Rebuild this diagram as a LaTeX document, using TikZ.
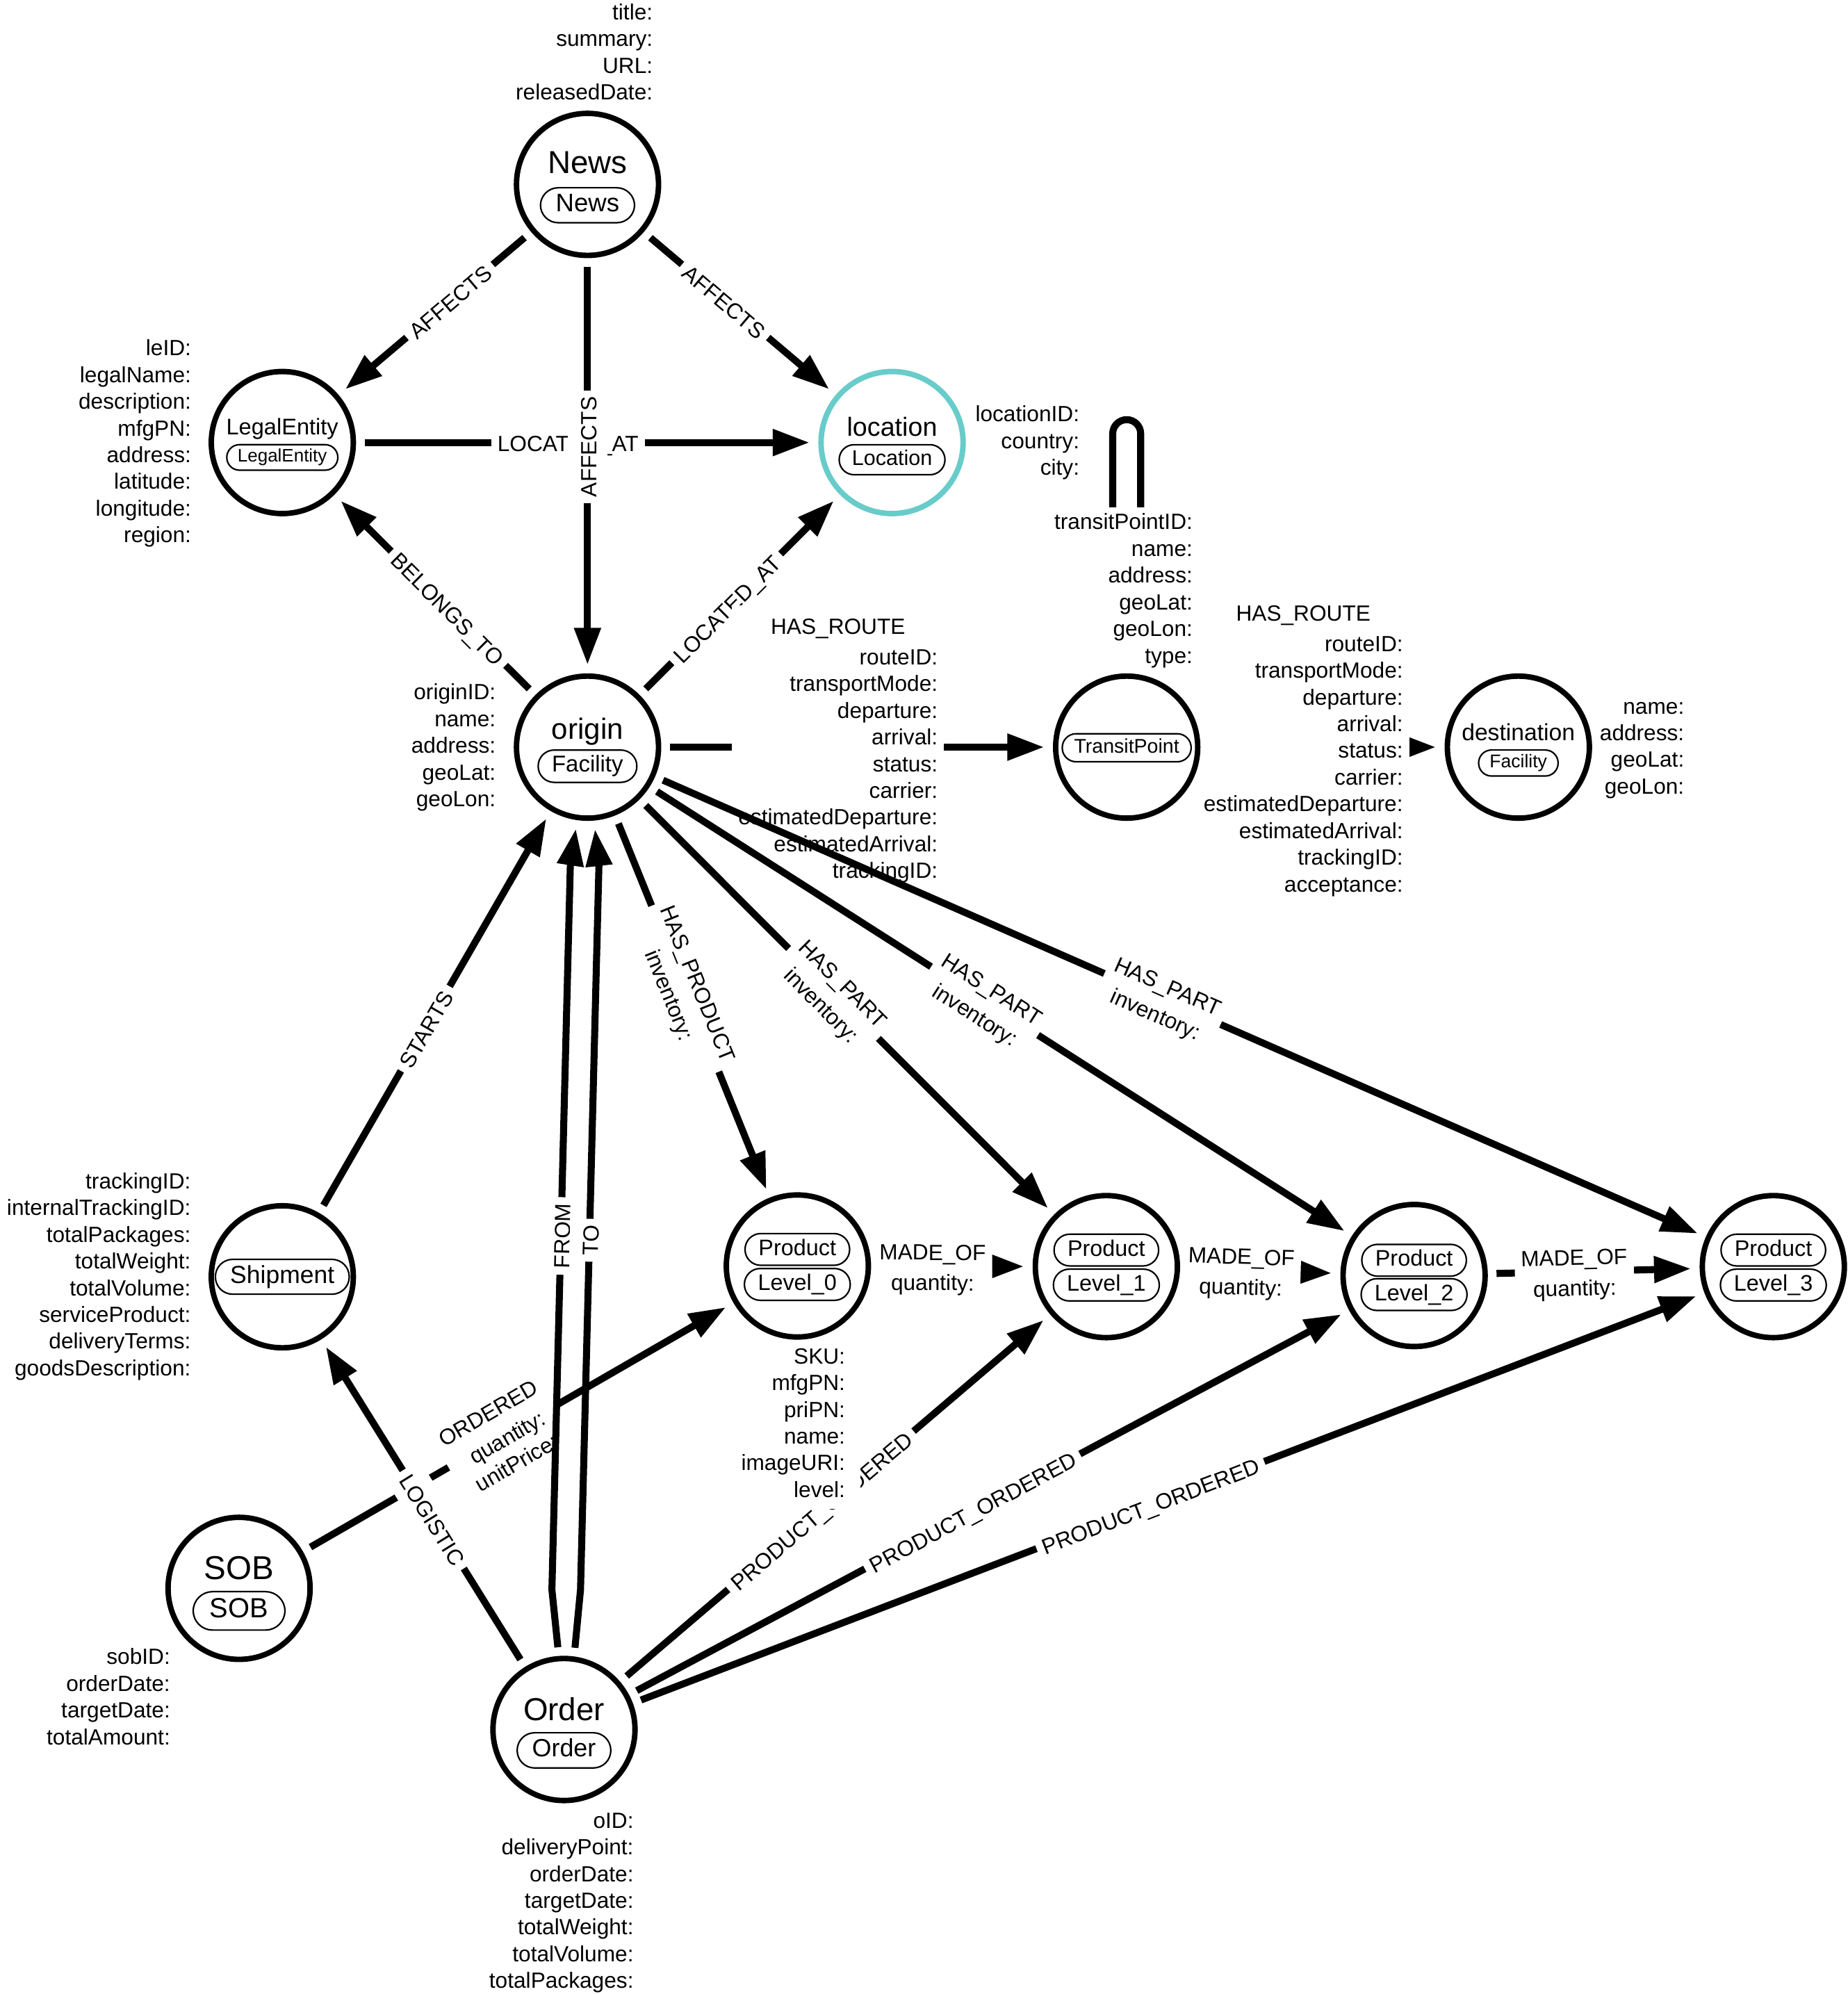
\documentclass[tikz,border=0pt]{standalone}
\usepackage{fontspec}
\setmainfont{Liberation Sans}
\usetikzlibrary{arrows.meta,shapes.misc,calc}
\pgfdeclarelayer{edges}
\pgfdeclarelayer{props}
\pgfsetlayers{edges,props,main}
\definecolor{locteal}{HTML}{68CCCA}
% vertical phantom so every caption has the same box height
\newcommand\vp{\vphantom{Ay}}
% relationship type alone (text set a little low inside its white box)
\newcommand\rtitle[1]{\raisebox{-3pt}[\height][\depth]{\begin{tabular}{@{}c@{}}#1\end{tabular}}}
% relationship type with its property keys below
\newcommand\rprops[2]{\raisebox{-3pt}[\height][\depth]{\begin{tabular}{@{}c@{}}#1\\[3pt]\begin{tabular}{@{}r@{}}#2\end{tabular}\end{tabular}}}
% property keys of a node, aligned on the baseline of the first key
\newcommand\plist[1]{\begin{tabular}[t]{@{}r@{}}#1\end{tabular}}

\begin{document}
\begin{tikzpicture}[x=1pt,y=-1pt,
  ent/.style={circle,draw,line width=4.3pt,minimum size=111.7pt,inner sep=0pt,outer sep=0pt,fill=white},
  ncap/.style={inner sep=0pt,font=\fontsize{#1}{#1}\selectfont},
  pill/.style={rectangle,draw,line width=1.2pt,fill=white,rounded corners={0.7*#1pt},
    font=\fontsize{#1}{#1}\selectfont,inner xsep={0.6*#1},inner ysep={0.24*#1}},
  props/.style={fill=white,inner xsep=3pt,inner ysep=3pt,font=\fontsize{17.3}{21}\selectfont,anchor=base east},
  rel/.style={line width=5.5pt,-{Triangle[length=29pt,width=20pt]},shorten <=9pt,shorten >=9pt},
  lbl/.style={fill=white,inner sep=5pt,font=\fontsize{17.3}{21}\selectfont},
  elab/.style={lbl,sloped,pos=#1},
]
\useasboundingbox (0,0) rectangle (1453,1568);

% ---------- entities ----------
\node[ent] (news) at (462,145) {};
\node[ncap=25] (newsT) at ($(news)+(0,-14.6)$) {\vp News};
\node[pill=20] (newsL) at ($(news)+(0,16.4)$) {\vp News};

\node[ent] (le) at (222,348) {};
\node[ncap=17.8] (leT) at ($(le)+(0,-10.8)$) {\vp LegalEntity};
\node[pill=14.2] (leL) at ($(le)+(0,11.7)$) {\vp LegalEntity};

\node[ent,draw=locteal] (loc) at (701.5,348) {};
\node[ncap=20.6] (locT) at ($(loc)+(0,-10.6)$) {\vp location};
\node[pill=16.7] (locL) at ($(loc)+(0,13.5)$) {\vp Location};

\node[ent] (orig) at (462,587.5) {};
\node[ncap=23] (origT) at ($(orig)+(0,-12)$) {\vp origin};
\node[pill=18] (origL) at ($(orig)+(0,15)$) {\vp Facility};

\node[ent] (trans) at (886,587.5) {};
\node[pill=15.6] (transL) at ($(trans)+(0,0.5)$) {\vp TransitPoint};

\node[ent] (dest) at (1194,587.5) {};
\node[ncap=18.4] (destT) at ($(dest)+(0,-10)$) {\vp destination};
\node[pill=14.5] (destL) at ($(dest)+(0,12.5)$) {\vp Facility};

\node[ent] (ship) at (222,1004) {};
\node[pill=19.4] (shipL) at (ship) {\vp Shipment};

\node[ent] (p0) at (627,995.5) {};
\node[pill=17.7] (p0a) at ($(p0)+(0,-13)$) {\vp Product};
\node[pill=17.7] (p0b) at ($(p0)+(0,14.5)$) {\vp Level\_0};

\node[ent] (p1) at (870,996) {};
\node[pill=17.7] (p1a) at ($(p1)+(0,-13)$) {\vp Product};
\node[pill=17.7] (p1b) at ($(p1)+(0,14.5)$) {\vp Level\_1};

\node[ent] (p2) at (1112,1003) {};
\node[pill=17.7] (p2a) at ($(p2)+(0,-12)$) {\vp Product};
\node[pill=17.7] (p2b) at ($(p2)+(0,15)$) {\vp Level\_2};

\node[ent] (p3) at (1394.5,996) {};
\node[pill=17.7] (p3a) at ($(p3)+(0,-13)$) {\vp Product};
\node[pill=17.7] (p3b) at ($(p3)+(0,14.5)$) {\vp Level\_3};

\node[ent] (sob) at (188,1249) {};
\node[ncap=26] (sobT) at ($(sob)+(0,-13.6)$) {\vp SOB};
\node[pill=21.8] (sobL) at ($(sob)+(0,17.7)$) {\vp SOB};

\node[ent] (ord) at (443.5,1360) {};
\node[ncap=25] (ordT) at ($(ord)+(0,-13.3)$) {\vp Order};
\node[pill=19.6] (ordL) at ($(ord)+(0,16.4)$) {\vp Order};

% bend points of the two parallel Order -> origin relationships
\coordinate (fk1) at (434,1250);
\coordinate (fk2) at (448.5,680);
\coordinate (tk1) at (456.5,1250);
\coordinate (tk2) at (471,680);
% top of the TransitPoint self loop
\coordinate (lpL) at (875,330);
\coordinate (lpR) at (897,330);

% ---------- relationships ----------
\begin{pgfonlayer}{edges}
\fill[white] (0,0) rectangle (1453,1568);

\draw[rel] (news) -- (le) node[elab=0.425] (rA1) {\rtitle{AFFECTS}};
\draw[rel] (news) -- (loc) node[elab=0.425] (rA2) {\rtitle{AFFECTS}};
\draw[rel] (le) -- (loc) node[elab=0.459] (rL1) {\rtitle{LOCATED\_AT}};
\draw[rel] (news) -- (orig) node[lbl,pos=0.455,rotate=90] (rA3) {\rtitle{AFFECTS}};
\draw[rel] (orig) -- (le) node[elab=0.434] (rB) {\rtitle{BELONGS\_TO}};
\draw[rel] (orig) -- (loc) node[elab=0.434] (rL2) {\rtitle{LOCATED\_AT}};

\draw[rel] (orig) -- (trans) node[elab=0.452] (rR1) {\rprops{HAS\_ROUTE}{routeID:\\transportMode:\\departure:\\arrival:\\status:\\carrier:\\estimatedDeparture:\\estimatedArrival:\\trackingID:}};
\draw[rel] (trans) -- (dest) node[elab=0.423] (rR2) {\rprops{HAS\_ROUTE}{routeID:\\transportMode:\\departure:\\arrival:\\status:\\carrier:\\estimatedDeparture:\\estimatedArrival:\\trackingID:\\acceptance:}};
\draw[rel,rounded corners=11pt] (trans.north -| lpL) -- (lpL) -- (lpR) -- (trans.north -| lpR);

\draw[rel] (orig) -- (p0) node[elab=0.454] (rP0) {\rprops{HAS\_PRODUCT}{inventory:}};
\draw[rel] (orig) -- (p1) node[elab=0.468] (rP1) {\rprops{HAS\_PART}{inventory:}};
\draw[rel] (orig) -- (p2) node[elab=0.477] (rP2) {\rprops{HAS\_PART}{inventory:}};
\draw[rel] (orig) -- (p3) node[elab=0.483] (rP3) {\rprops{HAS\_PART}{inventory:}};

\draw[rel] (p0) -- (p1) node[elab=0.385] (rM1) {\rprops{MADE\_OF}{quantity:}};
\draw[rel] (p1) -- (p2) node[elab=0.385] (rM2) {\rprops{MADE\_OF}{quantity:}};
\draw[rel] (p2) -- (p3) node[elab=0.411] (rM3) {\rprops{MADE\_OF}{quantity:}};

\draw[rel] (ship) -- (orig) node[elab=0.459] (rS) {\rtitle{STARTS}};
\draw[rel] (sob) -- (p0) node[elab=0.462] (rO) {\rprops{ORDERED}{quantity:\\unitPrice:}};
\draw[rel] (ord) -- (ship) node[elab=0.451] (rLg) {\rtitle{LOGISTIC}};
\draw[rel] (ord.94.4) -- (fk1) -- node[elab=0.488] (rF) {\rtitle{FROM}} (fk2) -- (orig.262.4);
\draw[rel] (ord.82.4) -- (tk1) -- node[elab=0.482] (rT) {\rtitle{TO}} (tk2) -- (orig.-85.5);

\draw[rel] (ord) -- (p1) node[elab=0.467] (rQ1) {\rtitle{PRODUCT\_ORDERED}};
\draw[rel] (ord) -- (p2) node[elab=0.477] (rQ2) {\rtitle{PRODUCT\_ORDERED}};
\draw[rel] (ord) -- (p3) node[elab=0.483] (rQ3) {\rtitle{PRODUCT\_ORDERED}};
\end{pgfonlayer}

% ---------- node properties ----------
\begin{pgfonlayer}{props}
\node[props] (newsP) at (516.5,15.5) {\plist{title:\\summary:\\URL:\\releasedDate:}};
\node[props] (leP) at (153.5,279.7) {\plist{leID:\\legalName:\\description:\\mfgPN:\\address:\\latitude:\\longitude:\\region:}};
\node[props] (locP) at (852,331.6) {\plist{locationID:\\country:\\city:}};
\node[props] (transP) at (941,416.4) {\plist{transitPointID:\\name:\\address:\\geoLat:\\geoLon:\\type:}};
\node[props] (origP) at (393,550.3) {\plist{originID:\\name:\\address:\\geoLat:\\geoLon:}};
\node[props] (destP) at (1327.6,561.3) {\plist{name:\\address:\\geoLat:\\geoLon:}};
\node[props] (shipP) at (153.2,934.8) {\plist{trackingID:\\internalTrackingID:\\totalPackages:\\totalWeight:\\totalVolume:\\serviceProduct:\\deliveryTerms:\\goodsDescription:}};
\node[props,inner xsep=12pt] (p0P) at (676.8,1072.4) {\plist{SKU:\\mfgPN:\\priPN:\\name:\\imageURI:\\level:}};
\node[props] (sobP) at (137,1308.8) {\plist{sobID:\\orderDate:\\targetDate:\\totalAmount:}};
\node[props] (ordP) at (501.4,1437.5) {\plist{oID:\\deliveryPoint:\\orderDate:\\targetDate:\\totalWeight:\\totalVolume:\\totalPackages:}};
\end{pgfonlayer}
\end{tikzpicture}
\end{document}
